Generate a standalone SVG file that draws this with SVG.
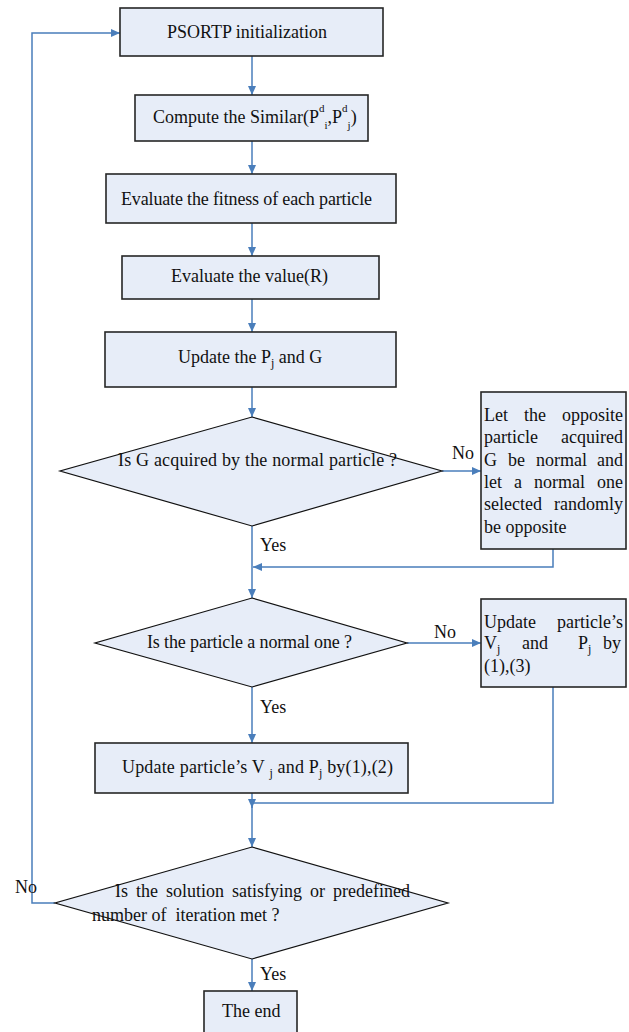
<svg xmlns="http://www.w3.org/2000/svg" width="629" height="1032" viewBox="0 0 629 1032">
<style>
.box{fill:#e7edf8;stroke:#262626;stroke-width:1.6}
.dia{fill:#e7edf8;stroke:#111;stroke-width:1.2}
.t{font-family:"Liberation Serif","Times New Roman",serif;font-size:18px;fill:#111}
.c{fill:none;stroke:#4a7ebb;stroke-width:1.5}
</style>
<defs>
<marker id="ah" markerUnits="userSpaceOnUse" markerWidth="10" markerHeight="10" refX="9" refY="4" orient="auto">
<path d="M0,0 L9,4 L0,8 z" fill="#4a7ebb"/>
</marker>
</defs>
<rect width="629" height="1032" fill="#fff"/>
<g id="connectors">
<path class="c" d="M252,56 V95" marker-end="url(#ah)"/>
<path class="c" d="M252,141 V174" marker-end="url(#ah)"/>
<path class="c" d="M252,223 V256" marker-end="url(#ah)"/>
<path class="c" d="M252,299 V332" marker-end="url(#ah)"/>
<path class="c" d="M252,387 V417" marker-end="url(#ah)"/>
<path class="c" d="M442,471 H481" marker-end="url(#ah)"/>
<path class="c" d="M252,526 V598" marker-end="url(#ah)"/>
<path class="c" d="M553,549 V567 H253" marker-end="url(#ah)"/>
<path class="c" d="M407,643 H481" marker-end="url(#ah)"/>
<path class="c" d="M252,687 V743" marker-end="url(#ah)"/>
<path class="c" d="M252,793 V847" marker-end="url(#ah)"/>
<path class="c" d="M553,687 V803 H252 V808" marker-end="url(#ah)"/>
<path class="c" d="M252,959 V991" marker-end="url(#ah)"/>
<path class="c" d="M55,903 H32 V33 H120" marker-end="url(#ah)"/>
<text class="t" x="452" y="459">No</text>
<text class="t" x="260" y="551">Yes</text>
<text class="t" x="434" y="638">No</text>
<text class="t" x="260" y="713">Yes</text>
<text class="t" x="15" y="893">No</text>
<text class="t" x="260" y="980">Yes</text>
</g>
<g id="n1">
<rect class="box" x="120" y="8" width="263" height="48"/>
<text class="t" x="167" y="38" textLength="160" lengthAdjust="spacing">PSORTP initialization</text>
</g>
<g id="n2">
<rect class="box" x="135" y="95" width="233" height="46"/>
<text class="t" x="153" y="123" font-size="15.5">Compute the Similar(<tspan font-size="18">P</tspan><tspan font-size="11" dy="-11">d</tspan><tspan font-size="11" dy="17">i</tspan><tspan font-size="18" dy="-6">,P</tspan><tspan font-size="11" dy="-11">d</tspan><tspan font-size="11" dy="17">j</tspan><tspan font-size="18" dy="-6">)</tspan></text>
</g>
<g id="n3">
<rect class="box" x="106" y="174" width="290" height="49"/>
<text class="t" x="121" y="205" textLength="251" lengthAdjust="spacing">Evaluate the fitness of each particle</text>
</g>
<g id="n4">
<rect class="box" x="122" y="256" width="257" height="43"/>
<text class="t" x="171" y="282" textLength="157" lengthAdjust="spacing">Evaluate the  value(R)</text>
</g>
<g id="n5">
<rect class="box" x="105" y="332" width="291" height="55"/>
<text class="t" x="178" y="363">Update the P<tspan font-size="12" dy="4">j</tspan><tspan dy="-4"> and G</tspan></text>
</g>
<g id="n6">
<polygon class="dia" points="252,417 442,471 252,526 60,471"/>
<text class="t" x="118" y="466" textLength="279" lengthAdjust="spacing">Is G acquired by the normal particle ?</text>
</g>
<g id="n7">
<rect class="box" x="481" y="392" width="145" height="157"/>
<text class="t" x="484" y="421">Let</text><text class="t" x="524" y="421">the</text><text class="t" x="623" y="421" text-anchor="end">opposite</text>
<text class="t" x="484" y="443">particle</text><text class="t" x="623" y="443" text-anchor="end">acquired</text>
<text class="t" x="484" y="466">G</text><text class="t" x="508" y="466">be</text><text class="t" x="536" y="466">normal</text><text class="t" x="623" y="466" text-anchor="end">and</text>
<text class="t" x="484" y="488">let</text><text class="t" x="514" y="488">a</text><text class="t" x="534" y="488">normal</text><text class="t" x="623" y="488" text-anchor="end">one</text>
<text class="t" x="484" y="510">selected</text><text class="t" x="623" y="510" text-anchor="end">randomly</text>
<text class="t" x="484" y="533">be opposite</text>
</g>
<g id="n8">
<polygon class="dia" points="252,598 407,643 252,687 95,643"/>
<text class="t" x="147" y="648" textLength="205" lengthAdjust="spacing">Is the particle a normal one ?</text>
</g>
<g id="n9">
<rect class="box" x="481" y="599" width="145" height="88"/>
<text class="t" x="484" y="628">Update</text><text class="t" x="623" y="628" text-anchor="end">particle’s</text>
<text class="t" x="484" y="649">V<tspan font-size="12" dy="4">j</tspan></text>
<text class="t" x="522" y="649">and</text>
<text class="t" x="578" y="649">P<tspan font-size="12" dy="4">j</tspan></text>
<text class="t" x="621" y="649" text-anchor="end">by</text>
<text class="t" x="484" y="672">(1),(3)</text>
</g>
<g id="n10">
<rect class="box" x="95" y="743" width="313" height="50"/>
<text class="t" x="122" y="773" textLength="271" lengthAdjust="spacing">Update particle’s V <tspan font-size="12" dy="4">j</tspan><tspan dy="-4"> and P</tspan><tspan font-size="12" dy="4">j</tspan><tspan dy="-4"> by(1),(2)</tspan></text>
</g>
<g id="n11">
<polygon class="dia" points="252,847 448,903 252,959 55,903"/>
<text class="t" x="115" y="897" textLength="295" lengthAdjust="spacing" style="word-spacing:3.5px">Is the solution satisfying or predefined</text>
<text class="t" x="92" y="921" xml:space="preserve">number of  iteration met ?</text>
</g>
<g id="n12">
<rect class="box" x="204" y="991" width="93" height="50"/>
<text class="t" x="222" y="1017">The end</text>
</g>
</svg>
